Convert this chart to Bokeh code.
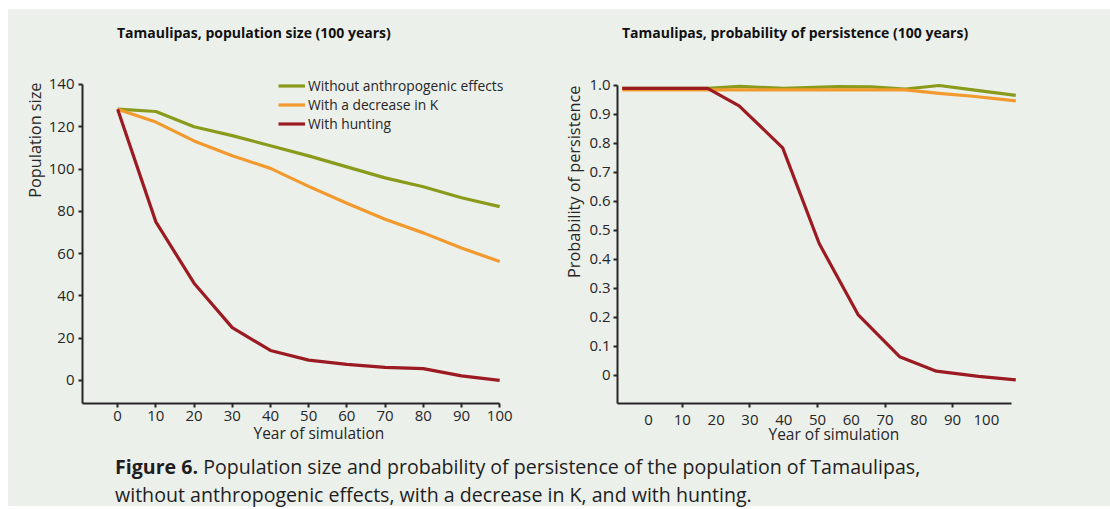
from bokeh.plotting import figure
from bokeh.models import (FixedTicker, Div, Legend, LegendItem, Range1d, Title,
                          PrintfTickFormatter)
from bokeh.layouts import column, row
from bokeh.embed import file_html
from bokeh.resources import INLINE

# ---- population size (left panel) ----
years = [0, 10, 20, 30, 40, 50, 60, 70, 80, 90, 100]
pop_natural = [128.3, 127.2, 120.0, 115.8, 111.0, 106.2, 101.0, 95.8, 91.6, 86.4, 82.2]
pop_lower_k = [128.3, 122.2, 113.3, 106.3, 100.3, 91.8, 83.8, 76.2, 69.8, 62.6, 56.3]
pop_hunting = [128.3, 75.0, 46.0, 25.0, 14.2, 9.6, 7.6, 6.2, 5.6, 2.2, 0.0]

# ---- probability of persistence (right panel), positions on its year axis ----
yr_natural = [-7.8, 10, 17.5, 27, 40, 56, 66, 76, 86, 96, 108.7]
pp_natural = [0.99, 0.99, 0.99, 0.997, 0.99, 0.996, 0.995, 0.988, 1.0, 0.985, 0.966]
yr_lower_k = [-7.8, 20, 40, 60, 76, 86, 96, 108.7]
pp_lower_k = [0.985, 0.985, 0.985, 0.985, 0.985, 0.973, 0.963, 0.947]
yr_hunting = [-7.8, 17.5, 26.8, 39.7, 50.5, 62.0, 74.3, 85.2, 97.7, 108.7]
pp_hunting = [0.99, 0.99, 0.93, 0.785, 0.455, 0.21, 0.065, 0.015, -0.003, -0.015]

series_names = ["Without anthropogenic effects", "With a decrease in K", "With hunting"]
series_colors = ["#8a9b1c", "#f29a2e", "#9c1a22"]

pop_ticks = [0, 20, 40, 60, 80, 100, 120, 140]
prob_ticks = [0, 0.1, 0.2, 0.3, 0.4, 0.5, 0.6, 0.7, 0.8, 0.9, 1.0]
year_ticks = [0, 10, 20, 30, 40, 50, 60, 70, 80, 90, 100]
prob_year_marks = [10, 30, 50, 70, 90]

panel_titles = ["Tamaulipas, population size (100 years)",
                "Tamaulipas, probability of persistence (100 years)"]

BG = "#ecf0eb"
INK = "#262626"
FONT = "Open Sans"


def style_axes(p):
    for ax in (p.xaxis[0], p.yaxis[0]):
        ax.axis_line_color = INK
        ax.axis_line_width = 2
        ax.major_tick_line_color = INK
        ax.major_tick_line_width = 2
        ax.major_tick_in = 0
        ax.major_tick_out = 4
        ax.minor_tick_line_color = None
        ax.major_label_text_font = FONT
        ax.major_label_text_font_size = "15px"
        ax.major_label_text_color = INK
    p.xaxis[0].major_label_standoff = 3
    p.grid.visible = False
    p.outline_line_color = None
    p.background_fill_color = BG
    p.border_fill_color = BG


def axis_title(text, align, offset, standoff, size="15.5px"):
    return Title(text=text, align=align, offset=offset, text_font=FONT,
                 text_font_size=size, text_font_style="normal", text_color=INK,
                 standoff=standoff)


# panel headings
header = Div(width=1102, height=50, margin=0, text=(
    '<div style="position:relative;width:1102px;height:50px;background:%s;'
    'font-family:\'Open Sans\';font-size:14px;font-weight:bold;color:#111;">'
    '<span style="position:absolute;left:109px;top:14px;white-space:nowrap;">%s</span>'
    '<span style="position:absolute;left:614px;top:14px;white-space:nowrap;">%s</span>'
    '</div>') % (BG, panel_titles[0], panel_titles[1]))

# left panel
p1 = figure(width=547, height=390, output_backend="svg", toolbar_location=None,
            x_range=Range1d(-9.2, 101), y_range=Range1d(-10.9, 146.6),
            min_border_left=74, min_border_right=52, min_border_top=11,
            min_border_bottom=46)
style_axes(p1)
p1.xaxis.ticker = FixedTicker(ticks=year_ticks)
p1.yaxis.ticker = FixedTicker(ticks=pop_ticks)
p1.xaxis.bounds = (-9.2, 100)
p1.yaxis.bounds = (-10.9, 140)
p1.yaxis.major_label_standoff = 4
p1.add_layout(axis_title("Year of simulation", "left", 171, -8), "below")
p1.add_layout(axis_title("Population size", "right", 12, 0, "16.3px"), "left")

items = []
for ys, name, color in zip([pop_natural, pop_lower_k, pop_hunting], series_names, series_colors):
    r = p1.line(years, ys, line_color=color, line_width=3.2, line_join="round")
    items.append(LegendItem(label=name, renderers=[r]))
legend = Legend(items=items, location=(196, 270), glyph_width=27, glyph_height=19,
                label_standoff=3, spacing=0, padding=0, margin=0,
                background_fill_alpha=0, border_line_color=None,
                label_text_font=FONT, label_text_font_size="13.8px", label_text_color=INK,
                label_height=19)
p1.add_layout(legend)

# right panel
p2 = figure(width=555, height=390, output_backend="svg", toolbar_location=None,
            x_range=Range1d(-9.2, 109.5), y_range=Range1d(-0.0966, 1.0517),
            min_border_left=62, min_border_right=92, min_border_top=11,
            min_border_bottom=46)
style_axes(p2)
p2.xaxis.ticker = FixedTicker(ticks=year_ticks, minor_ticks=prob_year_marks)
p2.xaxis.major_tick_line_color = None
p2.xaxis.minor_tick_line_color = INK
p2.xaxis.minor_tick_line_width = 2
p2.xaxis.minor_tick_in = 0
p2.xaxis.minor_tick_out = 4
p2.xaxis.major_label_standoff = 7
p2.yaxis.ticker = FixedTicker(ticks=prob_ticks)
p2.yaxis.formatter = PrintfTickFormatter(format="%.1f")
p2.yaxis.major_label_overrides = {0: "0"}
p2.xaxis.bounds = (-9.2, 107.3)
p2.yaxis.bounds = (-0.0966, 1.0)
p2.yaxis.major_label_standoff = 3
p2.add_layout(axis_title("Year of simulation", "left", 151, -14), "below")
p2.add_layout(axis_title("Probability of persistence", "right", 15, 3, "16.3px"), "left")

for xs, ys, color in zip([yr_natural, yr_lower_k, yr_hunting],
                         [pp_natural, pp_lower_k, pp_hunting], series_colors):
    p2.line(xs, ys, line_color=color, line_width=3.2, line_join="round")

caption = Div(width=1102, height=57, margin=0, text=(
    '<div style="width:1102px;height:57px;box-sizing:border-box;background:%s;'
    'padding:4px 0 0 107px;font-family:\'Open Sans\';font-size:19.6px;line-height:28px;'
    'color:#1e1e1e;white-space:nowrap;">'
    '<b>Figure 6.</b> Population size and probability of persistence of the population of Tamaulipas,<br>'
    'without anthropogenic effects, with a decrease in K, and with hunting.</div>') % BG)

plots = row(p1, p2, spacing=0, styles={"background-color": BG})
layout = column(header, plots, caption, spacing=0, margin=(9, 0, 0, 8),
                styles={"background-color": BG})

with open("out.html", "w") as f:
    f.write(file_html(layout, INLINE))
